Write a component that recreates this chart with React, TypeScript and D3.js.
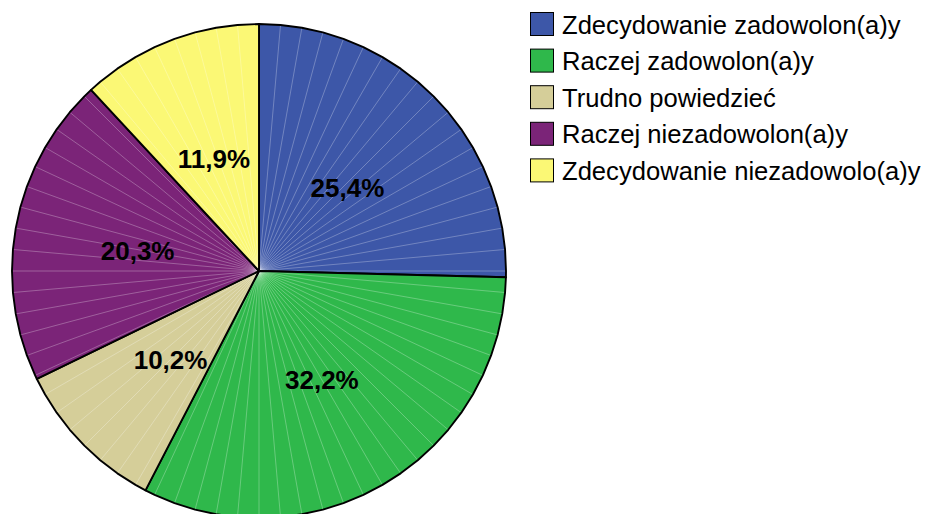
import React from "react";
import * as d3 from "d3";

const categories = [
  "Zdecydowanie zadowolon(a)y",
  "Raczej zadowolon(a)y",
  "Trudno powiedzieć",
  "Raczej niezadowolon(a)y",
  "Zdecydowanie niezadowolo(a)y",
];
const values = [25.4, 32.2, 10.2, 20.3, 11.9];
const labels = ["25,4%", "32,2%", "10,2%", "20,3%", "11,9%"];
const colors = ["#3d57a8", "#2fb84b", "#d5ce99", "#7b2478", "#fbf875"];

const W = 927;
const H = 514;
const CX = 259;
const CY = 271;
const R = 247;
const STEP = (5 * Math.PI) / 180;

function pt(a: number, r: number): [number, number] {
  return [CX + r * Math.sin(a), CY - r * Math.cos(a)];
}

export default function App() {
  const pie = d3.pie<number>().sort(null).value((d) => d);
  const arcs = pie(values);
  const labelArc = d3.arc<any>().innerRadius(0).outerRadius(R);
  const line = d3.line();

  return (
    <div style={{ position: "fixed", left: 0, top: 0, background: "#fff" }}>
      <svg width={W} height={H} style={{ display: "block" }}>
        <rect width={W} height={H} fill="#fff" />
        {arcs.map((a, i) => {
          const angs: number[] = [a.startAngle];
          let t = Math.ceil(a.startAngle / STEP + 1e-6) * STEP;
          while (t < a.endAngle - 1e-6) {
            angs.push(t);
            t += STEP;
          }
          angs.push(a.endAngle);
          const outer = angs.map((g) => pt(g, R));
          const poly: [number, number][] = [[CX, CY], ...outer];
          const d = line(poly)! + "Z";
          return (
            <g key={i}>
              <path d={d} fill={colors[i]} />
              {angs.slice(1, -1).map((g, k) => {
                const p = pt(g, R);
                return (
                  <line
                    key={k}
                    x1={CX}
                    y1={CY}
                    x2={p[0]}
                    y2={p[1]}
                    stroke="#ffffff"
                    strokeOpacity={0.35}
                    strokeWidth={0.8}
                  />
                );
              })}
              <path d={d} fill="none" stroke="#000" strokeWidth={1.9} strokeLinejoin="round" />
            </g>
          );
        })}
        {arcs.map((a, i) => {
          const [x, y] = labelArc.centroid(a);
          return (
            <text
              key={i}
              x={CX + x}
              y={CY + y + 3}
              textAnchor="middle"
              dominantBaseline="central"
              fontFamily="Liberation Sans, Arial, sans-serif"
              fontWeight="bold"
              fontSize={26}
              fill="#000"
            >
              {labels[i]}
            </text>
          );
        })}
        {categories.map((c, i) => {
          const y0 = 12 + i * 36.6;
          return (
            <g key={c}>
              <rect x={530.5} y={y0 + 0.5} width={23} height={23} fill={colors[i]} stroke="#000" strokeWidth={1} />
              <text
                x={562}
                y={y0 + 21.5}
                fontFamily="Liberation Sans, Arial, sans-serif"
                fontSize={25.6}
                fill="#000"
              >
                {c}
              </text>
            </g>
          );
        })}
      </svg>
    </div>
  );
}
